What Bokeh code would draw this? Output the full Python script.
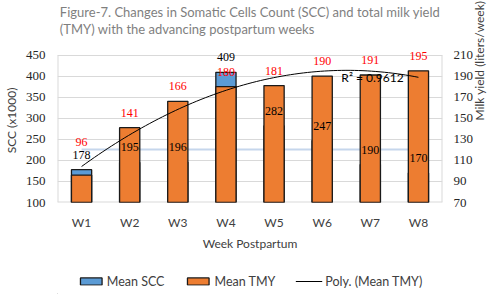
import numpy as np
from bokeh.plotting import figure
from bokeh.layouts import column
from bokeh.models import (Range1d, LinearAxis, FixedTicker, Label, LabelSet,
                          ColumnDataSource, Legend, LegendItem)
from bokeh.embed import file_html
from bokeh.resources import INLINE

# ---- data ----
weeks = ["W1", "W2", "W3", "W4", "W5", "W6", "W7", "W8"]
week_pos = [1, 2, 3, 4, 5, 6, 7, 8]
mean_scc = [178, 195, 196, 409, 282, 247, 190, 170]
mean_tmy = [96, 141, 166, 180, 181, 190, 191, 195]
scc_ref_line = [226, 226, 226, 226, 226, 226, 226, 226]
left_ticks = [100, 150, 200, 250, 300, 350, 400, 450]
right_ticks = [70, 90, 110, 130, 150, 170, 190, 210]
r2_text = "R\u00b2 = 0.9612"
title_text = ("Figure-7. Changes in Somatic Cells Count (SCC) and total milk yield\n"
              "(TMY) with the advancing postpartum weeks")

# label lift (px) above the value, styling only
tmy_label_lift = [33, 15, 15, 15, 15, 15, 15, 15]

FONT = "Lato"
SERIF = "Liberation Serif"
BLUE, ORANGE, EDGE = "#5b9bd5", "#ed7d31", "#1a1a1a"
FRAME_C = "#d9d9d9"

# layout (pixels)
W, H_MAIN, H_LEG = 500, 268, 26
B_LEFT, B_RIGHT, B_TOP, B_BOTTOM = 57, 58, 38, 66
AXIS_PX = 147.5                      # pixel height of the 100..450 span
frame_h = H_MAIN - B_BOTTOM - B_TOP

l0, l1 = left_ticks[0], left_ticks[-1]
r0, r1 = right_ticks[0], right_ticks[-1]
k = (r1 - r0) / (l1 - l0)
y_top = l0 + frame_h * (l1 - l0) / AXIS_PX   # head-room for labels near the top

src = ColumnDataSource(dict(
    x=week_pos, scc=mean_scc, tmy=mean_tmy,
    scc_txt=[str(v) for v in mean_scc], tmy_txt=[str(v) for v in mean_tmy],
    lift=tmy_label_lift, ref=scc_ref_line,
))

# ---- main chart ----
p = figure(width=W, height=H_MAIN, x_range=Range1d(0.5, 8.5), y_range=Range1d(l0, y_top),
           output_backend="svg", toolbar_location=None,
           min_border_left=B_LEFT, min_border_right=B_RIGHT, min_border_top=B_TOP,
           min_border_bottom=B_BOTTOM)
p.extra_y_ranges = {"tmy": Range1d(r0, r0 + (y_top - l0) * k)}
p.background_fill_color = "white"
p.border_fill_color = "white"
p.outline_line_color = None

# title (two lines) in the panel above the frame
p.title.text = title_text
p.title.align = "center"
p.title.text_font = FONT
p.title.text_font_size = "13px"
p.title.text_font_style = "normal"
p.title.text_color = "#7f7f7f"
p.title.text_line_height = 1.05
p.title.standoff = 3

p.xgrid.visible = False
p.ygrid.ticker = FixedTicker(ticks=left_ticks)
p.ygrid.grid_line_color = FRAME_C
p.ygrid.grid_line_width = 1

def style_axis(a, font, size):
    a.axis_line_color = None
    a.major_tick_line_color = None
    a.minor_tick_line_color = None
    a.major_tick_out = 0
    a.major_tick_in = 0
    a.minor_tick_out = 0
    a.minor_tick_in = 0
    a.major_label_text_font = font
    a.major_label_text_font_size = size
    a.major_label_text_color = "#262626"
    a.axis_label_text_font = FONT
    a.axis_label_text_font_size = "12px"
    a.axis_label_text_font_style = "normal"
    a.axis_label_text_color = "#404040"

ax = p.xaxis[0]
ax.ticker = FixedTicker(ticks=week_pos)
ax.major_label_overrides = {i: w for i, w in zip(week_pos, weeks)}
style_axis(ax, FONT, "12px")
ax.major_label_text_color = "#404040"
ax.major_label_standoff = 12
ax.axis_label = "Week Postpartum"
ax.axis_label_standoff = 3

ay = p.yaxis[0]
ay.ticker = FixedTicker(ticks=left_ticks)
style_axis(ay, SERIF, "13px")
ay.major_label_standoff = 12
ay.axis_label = "SCC (x1000)"
ay.axis_label_standoff = 4

ry = LinearAxis(y_range_name="tmy", ticker=FixedTicker(ticks=right_ticks))
style_axis(ry, SERIF, "13px")
ry.major_label_standoff = 11
ry.axis_label = "Milk yield (liters/week)"
ry.axis_label_standoff = 3
try:
    ry.axis_label_orientation = float(np.pi / 2)
except Exception:
    pass
p.add_layout(ry, "right")

# plot-area border (left, right, bottom)
p.segment(x0=[0.5, 8.5, 0.5], y0=[l0, l0, l0], x1=[0.5, 8.5, 8.5], y1=[l1, l1, l0],
          line_color=FRAME_C, line_width=2)

# light blue reference line (behind bars)
p.line("x", "ref", source=src, line_color="#c5d6ec", line_width=2)

# bars
p.vbar(x="x", top="scc", bottom=l0, width=0.42, source=src,
       fill_color=BLUE, line_color=EDGE, line_width=1.3)
p.vbar(x="x", top="tmy", bottom=r0, width=0.42, source=src, y_range_name="tmy",
       fill_color=ORANGE, line_color=EDGE, line_width=1.3)

# polynomial trendline (order 2) of TMY
coef = np.polyfit(week_pos, mean_tmy, 2)
xs = np.linspace(week_pos[0], week_pos[-1], 80)
p.line(xs, np.polyval(coef, xs), y_range_name="tmy", line_color="#000000", line_width=1)

# data labels
p.add_layout(LabelSet(x="x", y="scc", text="scc_txt", source=src, y_offset=15,
                      text_align="center", text_baseline="middle",
                      text_font=FONT, text_font_size="12px", text_color="#000000"))
p.add_layout(LabelSet(x="x", y="tmy", text="tmy_txt", source=src, y_range_name="tmy",
                      y_offset="lift", text_align="center", text_baseline="middle",
                      text_font=FONT, text_font_size="12px", text_color="#ff0000"))

p.add_layout(Label(x=315, y=125.5, x_units="screen", y_units="screen", text=r2_text,
                   text_align="center", text_baseline="middle",
                   text_font=FONT, text_font_size="12px", text_color="#000000"))

# ---- legend strip ----
lg = figure(width=W, height=H_LEG, x_range=Range1d(0, 1), y_range=Range1d(0, 1),
            output_backend="svg", toolbar_location=None, title=None,
            x_axis_location=None, y_axis_location=None, min_border=0)
lg.grid.visible = False
lg.outline_line_color = None
lg.background_fill_color = "white"
lg.border_fill_color = "white"
# off-screen proxies that only supply the legend swatches
d_scc = lg.vbar(x=[-5], top=[-5], bottom=-6, width=0.1, fill_color=BLUE, line_color=EDGE, line_width=1.3)
d_tmy = lg.vbar(x=[-5], top=[-5], bottom=-6, width=0.1, fill_color=ORANGE, line_color=EDGE, line_width=1.3)
d_poly = lg.line(x=[-5, -4], y=[-5, -5], line_color="#000000", line_width=1)

legend = Legend(items=[LegendItem(label="Mean SCC", renderers=[d_scc]),
                       LegendItem(label="Mean TMY", renderers=[d_tmy]),
                       LegendItem(label="Poly. (Mean TMY)", renderers=[d_poly])],
                location="center", orientation="horizontal",
                glyph_width=27, glyph_height=9, label_standoff=3, spacing=20,
                padding=0, margin=0, border_line_color=None, background_fill_alpha=0,
                label_text_font=FONT, label_text_font_size="12.5px", label_text_color="#404040",
                label_height=14)
lg.add_layout(legend, "center")

layout = column(p, lg, spacing=0)
open("out.html", "w").write(file_html(layout, INLINE))
